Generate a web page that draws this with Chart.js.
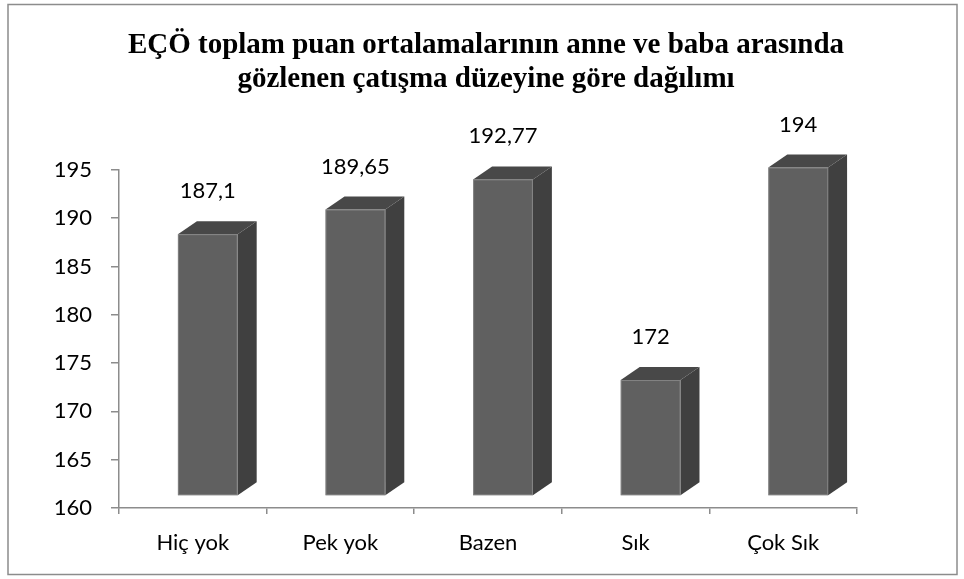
<!DOCTYPE html>
<html>
<head>
<meta charset="utf-8">
<script src="https://cdn.jsdelivr.net/npm/chart.js@4.4.1/dist/chart.umd.min.js"></script>
<style>
  html, body { margin: 0; padding: 0; background: #ffffff; }
  #wrap { width: 964px; height: 579px; }
</style>
</head>
<body>
<div id="wrap"><canvas id="chart" width="964" height="579"></canvas></div>
<script>
// chart data
const categories = ['Hiç yok', 'Pek yok', 'Bazen', 'Sık', 'Çok Sık'];
const values = [187.1, 189.65, 192.77, 172, 194];
const valueLabels = ['187,1', '189,65', '192,77', '172', '194'];
const yMin = 160;
const yMax = 195;
const yStep = 5;
const titleLines = [
    'EÇÖ toplam puan ortalamalarının anne ve baba arasında',
    'gözlenen çatışma düzeyine göre dağılımı'
];

// draws the excel-like 3d boxes on top of the (invisible) bar elements
var box3d = {
    id: 'box3d',
    beforeDraw: function (chart) {
        var ctx = chart.ctx;
        ctx.save();
        ctx.fillStyle = '#ffffff';
        ctx.fillRect(0, 0, chart.width, chart.height);
        ctx.strokeStyle = '#8c8c8c';
        ctx.lineWidth = 1.5;
        ctx.strokeRect(8, 4.5, 949, 570);
        ctx.restore();
    },
    afterDatasetsDraw: function (chart) {
        var ctx = chart.ctx;
        var meta = chart.getDatasetMeta(0);
        var shiftX = 15, shiftY = -12, dx = 19, dy = -13;
        ctx.save();
        meta.data.forEach(function (bar, i) {
            var p = bar.getProps(['x', 'y', 'base', 'width'], true);
            var l = p.x - p.width / 2 + shiftX;
            var r = p.x + p.width / 2 + shiftX;
            var t = p.y + shiftY;
            var b = p.base + shiftY;

            // right side
            ctx.fillStyle = '#404040';
            ctx.beginPath();
            ctx.moveTo(r, t);
            ctx.lineTo(r + dx, t + dy);
            ctx.lineTo(r + dx, b + dy);
            ctx.lineTo(r, b);
            ctx.closePath();
            ctx.fill();

            // top
            ctx.fillStyle = '#484848';
            ctx.beginPath();
            ctx.moveTo(l, t);
            ctx.lineTo(l + dx, t + dy);
            ctx.lineTo(r + dx, t + dy);
            ctx.lineTo(r, t);
            ctx.closePath();
            ctx.fill();

            // front
            ctx.fillStyle = '#606060';
            ctx.fillRect(l, t, r - l, b - t);
            ctx.strokeStyle = 'rgba(150,150,150,0.6)';
            ctx.lineWidth = 1;
            ctx.strokeRect(l + 0.5, t + 0.5, r - l - 1, b - t - 1);

            // value label
            ctx.fillStyle = '#000000';
            ctx.font = '22px Lato';
            ctx.textAlign = 'center';
            ctx.textBaseline = 'middle';
            ctx.fillText(valueLabels[i], (l + r) / 2, p.y - 55);
        });
        ctx.restore();
    }
};

var chart = new Chart(document.getElementById('chart'), {
    type: 'bar',
    data: {
        labels: categories,
        datasets: [{
            data: values,
            base: yMin,
            backgroundColor: 'rgba(0,0,0,0)',
            borderWidth: 0,
            barPercentage: 0.9,
            categoryPercentage: 0.45
        }]
    },
    options: {
        responsive: false,
        animation: false,
        events: [],
        layout: { padding: { top: 10, right: 0, bottom: 0, left: 8 } },
        plugins: {
            legend: { display: false },
            tooltip: { enabled: false },
            title: {
                display: true,
                text: titleLines,
                color: '#000000',
                font: { family: 'Liberation Serif', size: 29, weight: 'bold', lineHeight: 1.17 },
                padding: { top: 19, bottom: 73 }
            }
        },
        scales: {
            x: {
                grid: { display: true, drawOnChartArea: false, offset: true, tickLength: 6, color: '#8c8c8c', lineWidth: 1.5 },
                border: { display: true, color: '#8c8c8c', width: 1.5 },
                ticks: { color: '#000000', font: { family: 'Lato', size: 22 }, padding: 16 },
                afterFit: function (scale) { scale.height = 71; }
            },
            y: {
                min: yMin,
                max: yMax,
                ticks: { stepSize: yStep, color: '#000000', font: { family: 'Lato', size: 22 }, padding: 19 },
                grid: { display: true, drawOnChartArea: false, tickLength: 8, color: '#8c8c8c', lineWidth: 1.5 },
                border: { display: true, color: '#8c8c8c', width: 1.5 },
                afterFit: function (scale) { scale.width = 111; }
            },
            // empty right-hand space so the plot ends where the reference does
            yRight: {
                position: 'right',
                display: true,
                grid: { display: false },
                border: { display: false },
                ticks: { display: false },
                afterFit: function (scale) { scale.width = 107; }
            }
        }
    },
    plugins: [box3d]
});
</script>
</body>
</html>
